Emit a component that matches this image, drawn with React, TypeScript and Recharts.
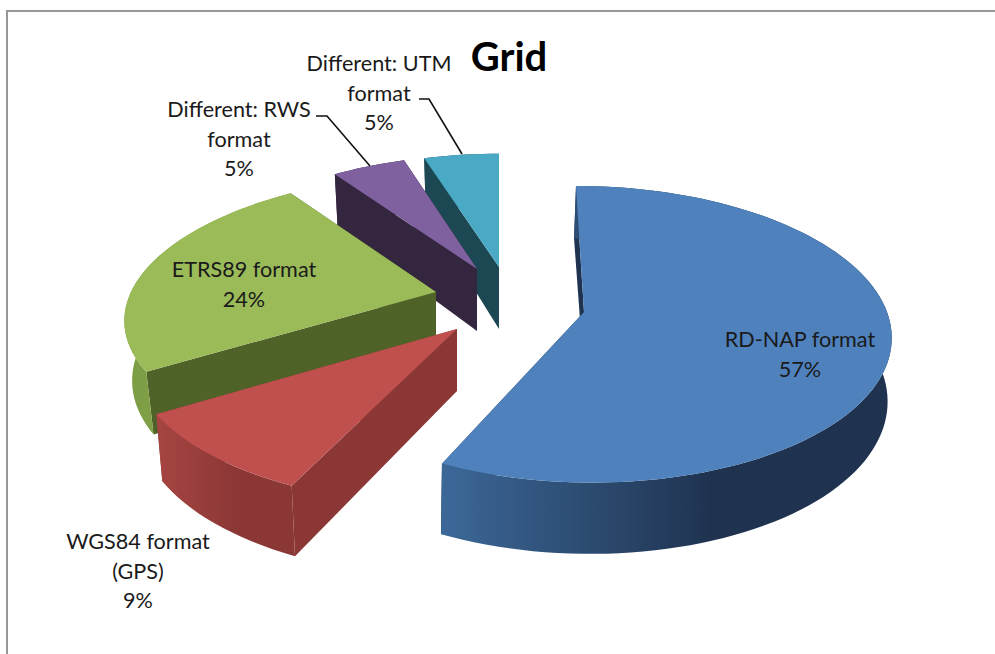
import { PieChart, Pie } from 'recharts'

const categories = ['Different: UTM format', 'Different: RWS format', 'ETRS89 format', 'WGS84 format (GPS)', 'RD-NAP format']
const percents = [5, 5, 24, 9, 57]

const tableData = categories.map((name, i) => ({ name, value: percents[i] }))

// top face projection per slice (the pie is exploded, every slice has its own apex)
const sliceStyle: Record<string, any> = {
  'Different: UTM format': { ax: 499, ay: 267, rx: 288, ry: 136, k: 0.2, skew: 0, depth: 62, shrink: 0.98, nudge: 0, top: '#4aaac5', cut: '#1c4853', rim: ['#1c4853', '#1c4853'] },
  'Different: RWS format': { ax: 477, ay: 269, rx: 281, ry: 136, k: 0.2, skew: 0, depth: 62, shrink: 0.98, nudge: 0, top: '#7f61a0', cut: '#35263f', rim: ['#35263f', '#35263f'] },
  'ETRS89 format': { ax: 436, ay: 292, rx: 305, ry: 137, k: 0.15, skew: -18, depth: 58, shrink: 0.975, nudge: 0, top: '#9bbb59', cut: '#4f6228', rim: ['#7c9c44', '#8aab4e'] },
  'WGS84 format (GPS)': { ax: 457, ay: 329, rx: 318, ry: 142, k: 0.2, skew: 0, depth: 62, shrink: 0.98, nudge: 0, top: '#c0504d', cut: '#8a3735', rim: ['#a64542', '#8a3735'] },
  'RD-NAP format': { ax: 584, ay: 312, rx: 303, ry: 145, k: 0.15, skew: 8, depth: 62, shrink: 0.993, nudge: -2, top: '#4f81bd', cut: '#1f3350', rim: ['#3c6898', '#1f3350'] },
}

const labelStyle: Record<string, any> = {
  'Different: UTM format': { x: 379, y: 71, lines: ['Different: UTM', 'format', '5%'], leader: '419,99 429,99 462,154' },
  'Different: RWS format': { x: 239, y: 117, lines: ['Different: RWS', 'format', '5%'], leader: '316,116 327,116 370,166' },
  'ETRS89 format': { x: 244, y: 277, lines: ['ETRS89 format', '24%'] },
  'WGS84 format (GPS)': { x: 138, y: 549, lines: ['WGS84 format', '(GPS)', '9%'] },
  'RD-NAP format': { x: 800, y: 347, lines: ['RD-NAP format', '57%'] },
}

const FONT = 'Lato, "Open Sans", sans-serif'

function project(s: any, angle: number) {
  const c = ((90 - angle) * Math.PI) / 180
  const u = Math.sin(c)
  const v = -Math.cos(c)
  const w = 1 - s.k * v
  const dx = (s.rx * u) / w + s.skew * v
  const dy = (s.ry * v) / w
  const d = s.depth * (1 + 0.15 * v)
  return {
    x: s.ax + dx,
    y: s.ay + dy,
    bx: s.ax + dx * s.shrink + s.nudge,
    by: s.ay + dy + d,
  }
}

function Slice3D(props: any) {
  const { startAngle, endAngle, name, index } = props
  const s = sliceStyle[name]
  const steps = Math.max(4, Math.round(Math.abs(endAngle - startAngle) / 2))
  const rim = []
  for (let i = 0; i <= steps; i++) {
    rim.push(project(s, startAngle + ((endAngle - startAngle) * i) / steps))
  }
  const first = rim[0]
  const last = rim[rim.length - 1]
  const apexBottom = { x: s.ax, y: s.ay + s.depth }
  const topPts = rim.map((p) => `${p.x},${p.y}`).join(' ')
  const rimBottom = [...rim].reverse().map((p) => `${p.bx},${p.by}`).join(' ')
  const gid = `rim-${index}`
  return (
    <g>
      <defs>
        <linearGradient id={gid} x1="0" y1="0" x2="1" y2="0">
          <stop offset="0%" stopColor={s.rim[0]} />
          <stop offset="60%" stopColor={s.rim[1]} />
          <stop offset="100%" stopColor={s.rim[1]} />
        </linearGradient>
      </defs>
      <polygon
        points={`${s.ax},${s.ay} ${first.x},${first.y} ${first.bx},${first.by} ${apexBottom.x},${apexBottom.y}`}
        fill={s.cut}
      />
      <polygon
        points={`${s.ax},${s.ay} ${last.x},${last.y} ${last.bx},${last.by} ${apexBottom.x},${apexBottom.y}`}
        fill={s.cut}
      />
      <polygon points={`${topPts} ${rimBottom}`} fill={`url(#${gid})`} />
      <polygon points={`${s.ax},${s.ay} ${topPts}`} fill={s.top} />
    </g>
  )
}

function SliceLabel(props: any) {
  const l = labelStyle[props.name]
  return (
    <g>
      {l.leader && <polyline points={l.leader} fill="none" stroke="#111" strokeWidth={1.6} />}
      {l.lines.map((t: string, i: number) => (
        <text key={t} x={l.x} y={l.y + i * 29.5} textAnchor="middle" fontFamily={FONT} fontSize={21.6} fill="#1a1a1a">
          {t}
        </text>
      ))}
    </g>
  )
}

export default function App() {
  return (
    <div style={{ position: 'absolute', left: 0, top: 0, width: 995, height: 654, background: '#fff', overflow: 'hidden' }}>
      <div style={{ position: 'absolute', left: 6, top: 10, width: 2, height: 644, background: '#979797' }} />
      <div style={{ position: 'absolute', left: 6, top: 10, width: 989, height: 2, background: '#979797' }} />
      <PieChart width={995} height={654} margin={{ top: 0, right: 0, bottom: 0, left: 0 }} style={{ position: 'absolute', left: 0, top: 0 }}>
        <text x={509} y={71} textAnchor="middle" fontFamily={FONT} fontWeight={700} fontSize={40} fill="#000">
          Grid
        </text>
        <Pie
          data={tableData}
          dataKey="value"
          nameKey="name"
          cx={500}
          cy={320}
          outerRadius={300}
          startAngle={90}
          endAngle={450}
          shape={Slice3D}
          label={SliceLabel}
          labelLine={false}
          stroke="none"
          isAnimationActive={false}
        />
      </PieChart>
    </div>
  )
}
